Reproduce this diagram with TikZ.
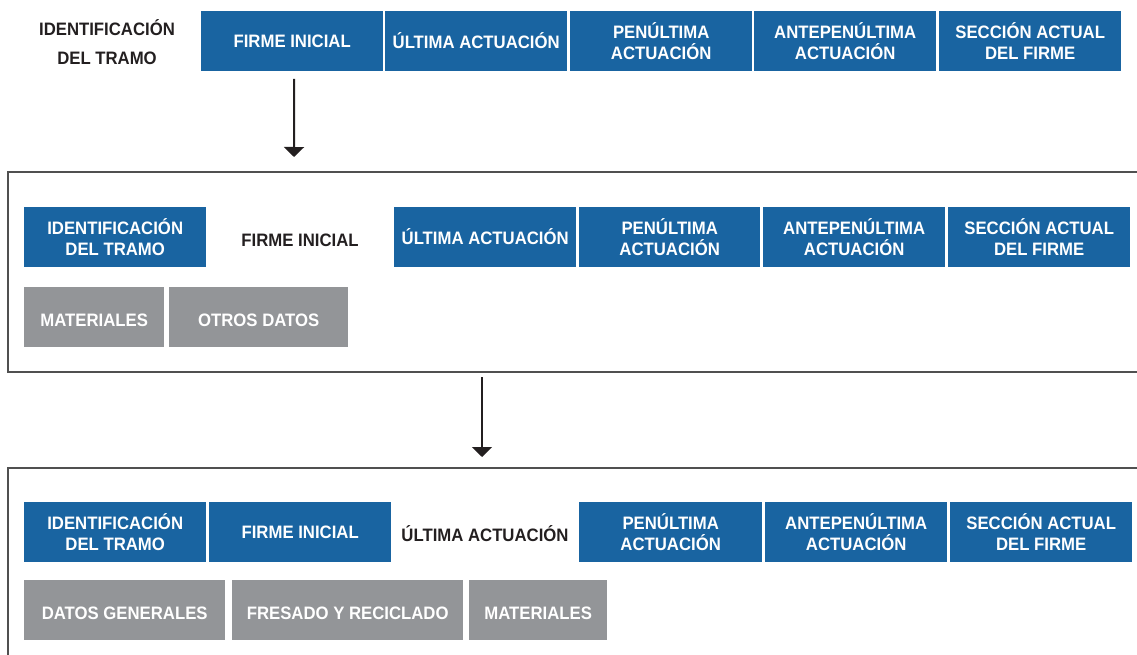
\documentclass[tikz,border=0pt]{standalone}
\usepackage{fontspec}
\setmainfont{Liberation Sans}[FakeStretch=0.93]
\usetikzlibrary{arrows.meta}
\definecolor{bluebox}{RGB}{25,100,161}
\definecolor{graybox}{RGB}{147,149,152}
\definecolor{darktext}{RGB}{35,31,32}
\definecolor{framecol}{RGB}{80,80,80}
\tikzset{
  lbl/.style={font=\fontsize{18}{21}\selectfont\bfseries, align=center, inner sep=0pt},
  bluebx/.style={lbl, fill=bluebox, text=white, anchor=north west, minimum height=59.5pt},
  graybx/.style={lbl, fill=graybox, text=white, anchor=north west, minimum height=60pt, text height=18.6pt, text depth=0pt},
  plain/.style={lbl, text=darktext},
  framel/.style={draw=framecol, line width=1.5pt},
  flowarrow/.style={draw=darktext, line width=2pt, -{Triangle[width=20pt,length=10pt]}}
}
\begin{document}
\begin{tikzpicture}[x=1pt,y=-1pt]
\useasboundingbox (0,0) rectangle (1137,655);
\begin{scope}
\clip (0,0) rectangle (1137,655);
% ---- Row 1
\node[plain, font=\fontsize{18}{29}\selectfont\bfseries] (r1id) at (107,42) {IDENTIFICACIÓN\\DEL TRAMO};
\node[bluebx, minimum width=182pt] (r1fi) at (201,11) {FIRME INICIAL};
\node[bluebx, minimum width=182pt] (r1ul) at (385,11) {ÚLTIMA ACTUACIÓN};
\node[bluebx, minimum width=182pt] (r1pe) at (570,11) {PENÚLTIMA\\ACTUACIÓN};
\node[bluebx, minimum width=182pt] (r1an) at (754,11) {ANTEPENÚLTIMA\\ACTUACIÓN};
\node[bluebx, minimum width=182pt] (r1se) at (939,11) {SECCIÓN ACTUAL\\DEL FIRME};
\coordinate (a1end) at (294,157);
\draw[flowarrow] ([xshift=2pt,yshift=-8pt]r1fi.south) -- (a1end);
% ---- Frame 2
\coordinate (f2tr) at (1150,172);
\coordinate (f2tl) at (8,172);
\coordinate (f2bl) at (8,372);
\coordinate (f2br) at (1150,372);
\draw[framel] (f2tr) -- (f2tl) -- (f2bl) -- (f2br);
\node[bluebx, minimum width=182pt] (r2id) at (24,207) {IDENTIFICACIÓN\\DEL TRAMO};
\node[plain] (r2fi) at (300,240) {FIRME INICIAL};
\node[bluebx, minimum width=182pt] (r2ul) at (394,207) {ÚLTIMA ACTUACIÓN};
\node[bluebx, minimum width=181pt] (r2pe) at (579,207) {PENÚLTIMA\\ACTUACIÓN};
\node[bluebx, minimum width=182pt] (r2an) at (763,207) {ANTEPENÚLTIMA\\ACTUACIÓN};
\node[bluebx, minimum width=182pt] (r2se) at (948,207) {SECCIÓN ACTUAL\\DEL FIRME};
\node[graybx, minimum width=140pt] (r2ma) at (24,287) {MATERIALES};
\node[graybx, minimum width=179pt] (r2ot) at (169,287) {OTROS DATOS};
% ---- Arrow 2
\coordinate (a2start) at (482,377);
\coordinate (a2end) at (482,457);
\draw[flowarrow] (a2start) -- (a2end);
% ---- Frame 3
\coordinate (f3tr) at (1150,468);
\coordinate (f3tl) at (8,468);
\coordinate (f3bl) at (8,665);
\draw[framel] (f3tr) -- (f3tl) -- (f3bl);
\node[bluebx, minimum width=182pt] (r3id) at (24,502) {IDENTIFICACIÓN\\DEL TRAMO};
\node[bluebx, minimum width=182pt] (r3fi) at (209,502) {FIRME INICIAL};
\node[plain] (r3ul) at (485,534) {ÚLTIMA ACTUACIÓN};
\node[bluebx, minimum width=183pt] (r3pe) at (579,502) {PENÚLTIMA\\ACTUACIÓN};
\node[bluebx, minimum width=182pt] (r3an) at (765,502) {ANTEPENÚLTIMA\\ACTUACIÓN};
\node[bluebx, minimum width=182pt] (r3se) at (950,502) {SECCIÓN ACTUAL\\DEL FIRME};
\node[graybx, minimum width=201pt] (r3dg) at (24,580) {DATOS GENERALES};
\node[graybx, minimum width=231pt] (r3fr) at (232,580) {FRESADO Y RECICLADO};
\node[graybx, minimum width=138pt] (r3ma) at (469,580) {MATERIALES};
\end{scope}
\end{tikzpicture}
\end{document}
